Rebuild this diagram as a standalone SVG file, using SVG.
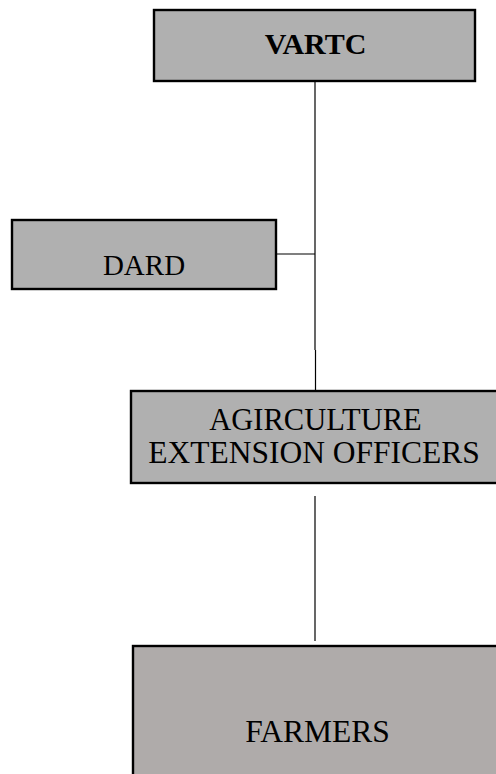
<svg xmlns="http://www.w3.org/2000/svg" width="496" height="774" viewBox="0 0 496 774">
<style>
.box{fill:#b0b0b0;stroke:#000;stroke-width:2.4}
.farm{fill:#afabaa;stroke:#000;stroke-width:2.4}
.t{font-family:"Liberation Serif","Times New Roman",serif;fill:#000;text-anchor:middle}
.c{stroke:#000;stroke-width:1.2;fill:none}
</style>
<rect width="496" height="774" fill="#fff"/>
<g id="connectors">
<line class="c" x1="315" y1="81" x2="315" y2="350"/>
<line class="c" x1="315.5" y1="350" x2="315.5" y2="391"/>
<line class="c" x1="276" y1="254" x2="315" y2="254"/>
<line class="c" x1="315" y1="496" x2="315" y2="641"/>
</g>
<g id="vartc">
<rect class="box" x="154" y="10" width="321" height="71"/>
<text class="t" x="315.5" y="54" font-size="30" font-weight="bold">VARTC</text>
</g>
<g id="dard">
<rect class="box" x="12" y="220" width="264" height="69"/>
<text class="t" x="144" y="275" font-size="29">DARD</text>
</g>
<g id="aeo">
<rect class="box" x="131" y="391" width="370" height="92"/>
<text class="t" x="315.5" y="430" font-size="30.5">AGIRCULTURE</text>
<text class="t" x="314" y="463" font-size="31.5">EXTENSION OFFICERS</text>
</g>
<g id="farmers">
<rect class="farm" x="133" y="646" width="370" height="140"/>
<text class="t" x="317.5" y="742" font-size="31.5">FARMERS</text>
</g>
</svg>
